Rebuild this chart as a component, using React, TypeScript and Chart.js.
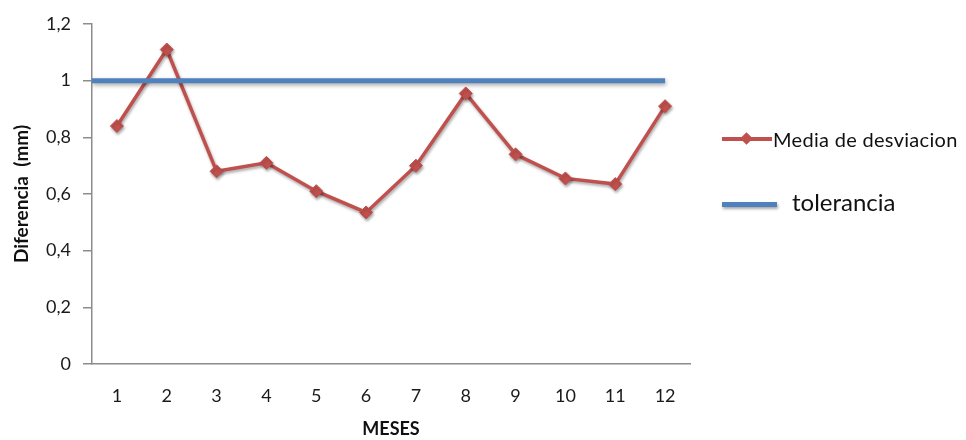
import React, { useEffect, useRef } from "react";
import { Chart, registerables } from "chart.js";

Chart.register(...registerables);

const months = [1, 2, 3, 4, 5, 6, 7, 8, 9, 10, 11, 12];
const mediaDesviacion = [0.84, 1.11, 0.68, 0.71, 0.61, 0.535, 0.70, 0.955, 0.74, 0.655, 0.635, 0.91];
const tolerancia = [1, 1, 1, 1, 1, 1, 1, 1, 1, 1, 1, 1];
const yTicks = [0, 0.2, 0.4, 0.6, 0.8, 1, 1.2];
const seriesNames = ["Media de desviacion", "tolerancia"];
const xMin = 0.5;
const xMax = 12.5;

const RED = "#C0504D";
const BLUE = "#4F81BD";
const FONT = "Lato, 'Liberation Sans', sans-serif";

const shadowPlugin = {
  id: "lineShadow",
  beforeDatasetDraw(chart: any, args: any) {
    const ctx = chart.ctx;
    ctx.save();
    ctx.shadowColor = "rgba(0,0,0,0.35)";
    ctx.shadowBlur = args.index === 0 ? 4 : 3;
    ctx.shadowOffsetX = 1;
    ctx.shadowOffsetY = 2;
  },
  afterDatasetDraw(chart: any) {
    chart.ctx.restore();
  },
};

export default function App() {
  const ref = useRef<HTMLCanvasElement | null>(null);

  useEffect(() => {
    if (!ref.current) return;
    const chart = new Chart(ref.current, {
      type: "line",
      data: {
        datasets: [
          {
            label: seriesNames[1],
            data: months.map((m, i) => ({ x: i === 0 ? xMin : m, y: tolerancia[i] })),
            borderColor: BLUE,
            backgroundColor: BLUE,
            borderWidth: 5,
            borderCapStyle: "butt",
            pointRadius: 0,
            tension: 0,
          },
          {
            label: seriesNames[0],
            data: months.map((m, i) => ({ x: m, y: mediaDesviacion[i] })),
            borderColor: RED,
            backgroundColor: RED,
            borderWidth: 3.5,
            pointStyle: "rectRot",
            pointRadius: 6.5,
            pointBorderWidth: 1,
            pointBackgroundColor: RED,
            pointBorderColor: RED,
            tension: 0,
          },
        ],
      },
      options: {
        animation: false,
        responsive: false,
        maintainAspectRatio: false,
        layout: { padding: { top: 16, right: 268, left: 0, bottom: 0 } },
        plugins: { legend: { display: false }, tooltip: { enabled: false } },
        scales: {
          x: {
            type: "linear",
            min: xMin,
            max: xMax,
            afterBuildTicks: (scale: any) => {
              scale.ticks = months.map((v) => ({ value: v }));
            },
            afterFit: (scale: any) => {
              scale.height = 76;
              scale.paddingLeft = 0;
              scale.paddingRight = 0;
            },
            grid: { display: true, drawOnChartArea: false, drawTicks: false },
            border: { display: true, color: "#8c8c8c", width: 1.5 },
            ticks: {
              padding: 21,
              color: "#1a1a1a",
              font: { family: FONT, size: 18 },
              callback: (v: any) => String(v),
            },
            title: {
              display: true,
              text: "MESES",
              color: "#111",
              font: { family: FONT, size: 18, weight: "bold" },
              padding: { top: 0, bottom: 0 },
            },
          },
          y: {
            min: 0,
            max: 1.2,
            afterBuildTicks: (scale: any) => {
              scale.ticks = yTicks.map((v) => ({ value: v }));
            },
            afterFit: (scale: any) => {
              scale.width = 84;
              scale.paddingTop = 0;
              scale.paddingBottom = 0;
            },
            grid: {
              display: true,
              drawOnChartArea: false,
              drawTicks: true,
              tickLength: 9,
              color: "#8c8c8c",
              lineWidth: 1.5,
            },
            border: { display: true, color: "#8c8c8c", width: 1.5 },
            ticks: {
              padding: 12,
              color: "#1a1a1a",
              font: { family: FONT, size: 18 },
              callback: (v: any) => String(Math.round(Number(v) * 10) / 10).replace(".", ","),
            },
            title: {
              display: true,
              text: "Diferencia  (mm)",
              color: "#111",
              font: { family: FONT, size: 19, weight: "bold" },
              padding: { top: 2, bottom: 0 },
            },
          },
        },
      },
      plugins: [shadowPlugin],
    } as any);
    return () => chart.destroy();
  }, []);

  return (
    <div style={{ position: "relative", width: 950, height: 432 }}>
      <canvas ref={ref} width={950} height={432} style={{ display: "block" }} />
      <div
        style={{
          position: "absolute",
          left: 714,
          top: 119,
          width: 236,
          display: "flex",
          alignItems: "center",
          fontFamily: FONT,
          fontSize: 20,
          letterSpacing: 0.3,
          color: "#111",
          whiteSpace: "nowrap",
        }}
      >
        <div style={{ position: "relative", width: 50, height: 20, flexShrink: 0 }}>
          <div style={{ position: "absolute", left: 0, top: 8, width: 50, height: 3.5, background: RED }} />
          <div
            style={{
              position: "absolute",
              left: 20,
              top: 5,
              width: 9,
              height: 9,
              background: RED,
              transform: "rotate(45deg)",
            }}
          />
        </div>
        <span style={{ marginLeft: 1 }}>{seriesNames[0]}</span>
      </div>
      <div
        style={{
          position: "absolute",
          left: 714,
          top: 179,
          display: "flex",
          alignItems: "center",
          fontFamily: FONT,
          fontSize: 24,
          color: "#111",
          whiteSpace: "nowrap",
        }}
      >
        <div style={{ position: "relative", width: 56, height: 28, flexShrink: 0 }}>
          <div
            style={{
              position: "absolute",
              left: 0,
              top: 14,
              width: 55,
              height: 5,
              background: BLUE,
              boxShadow: "1px 2px 3px rgba(0,0,0,0.35)",
            }}
          />
        </div>
        <span style={{ marginLeft: 14 }}>{seriesNames[1]}</span>
      </div>
    </div>
  );
}
